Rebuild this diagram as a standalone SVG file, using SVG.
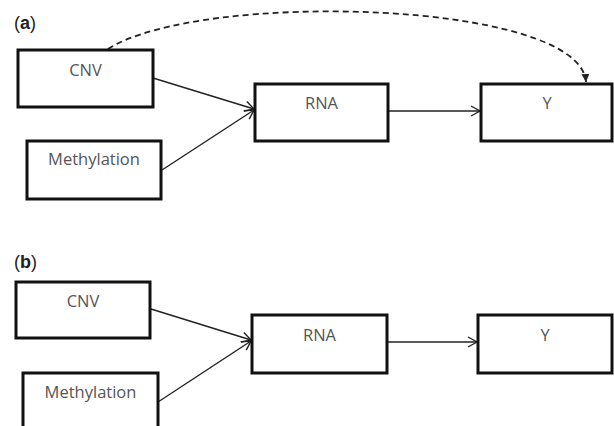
<svg xmlns="http://www.w3.org/2000/svg" width="614" height="426" viewBox="0 0 614 426">
<style>
.box{fill:#fff;stroke:#111;stroke-width:3}
.lbl{font-family:"Open Sans","Liberation Sans",sans-serif;font-size:16.5px;fill:#555;text-anchor:middle}
.panel{font-family:"Liberation Sans",Arial,sans-serif;font-size:18px;fill:#222}
.conn{fill:none;stroke:#222;stroke-width:1.4}
.dash{fill:none;stroke:#222;stroke-width:1.8;stroke-dasharray:6,4}
</style>
<defs>
<marker id="open" markerWidth="12" markerHeight="12" refX="10" refY="6" orient="auto" markerUnits="userSpaceOnUse">
<path d="M1,1 L10,6 L1,11" fill="none" stroke="#222" stroke-width="1.4"/>
</marker>
<marker id="solid" markerWidth="10" markerHeight="10" refX="8" refY="4" orient="auto" markerUnits="userSpaceOnUse">
<path d="M0,0 L8,4 L0,8 Z" fill="#222"/>
</marker>
</defs>
<text class="panel" x="14" y="29">(<tspan font-weight="bold">a</tspan>)</text>
<text class="panel" x="14" y="268">(<tspan font-weight="bold">b</tspan>)</text>
<g id="connectors">
<path class="conn" d="M153,78 L254,109" marker-end="url(#open)"/>
<path class="conn" d="M162,170 L254,110" marker-end="url(#open)"/>
<path class="conn" d="M388,111 L480,111" marker-end="url(#open)"/>
<path class="dash" d="M108,49 C200,-10 580,0 586,82" marker-end="url(#solid)"/>
<path class="conn" d="M151,309 L251,340" marker-end="url(#open)"/>
<path class="conn" d="M158,402 L251,341" marker-end="url(#open)"/>
<path class="conn" d="M387,342 L477,342" marker-end="url(#open)"/>
</g>
<g id="a-cnv"><rect class="box" x="18" y="50" width="135" height="57"/><text class="lbl" x="85.5" y="76">CNV</text></g>
<g id="a-methylation"><rect class="box" x="27" y="141" width="134" height="58"/><text class="lbl" x="94" y="165">Methylation</text></g>
<g id="a-rna"><rect class="box" x="255" y="84" width="133" height="57"/><text class="lbl" x="321.5" y="109">RNA</text></g>
<g id="a-y"><rect class="box" x="481" y="84" width="131" height="57"/><text class="lbl" x="547" y="109">Y</text></g>
<g id="b-cnv"><rect class="box" x="16" y="282" width="134" height="56"/><text class="lbl" x="83" y="307">CNV</text></g>
<g id="b-methylation"><rect class="box" x="23" y="373" width="135" height="60"/><text class="lbl" x="90.5" y="398">Methylation</text></g>
<g id="b-rna"><rect class="box" x="252" y="315" width="135" height="58"/><text class="lbl" x="319.5" y="341">RNA</text></g>
<g id="b-y"><rect class="box" x="478" y="315" width="134" height="58"/><text class="lbl" x="545" y="341">Y</text></g>
</svg>
